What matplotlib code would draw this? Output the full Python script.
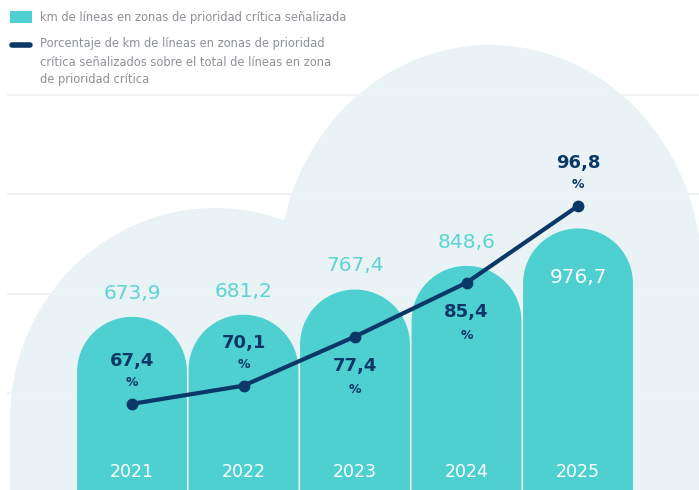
import numpy as np
import matplotlib
matplotlib.use("Agg")
import matplotlib.pyplot as plt
from matplotlib.path import Path
from matplotlib.patches import PathPatch, Ellipse, Rectangle
from matplotlib.lines import Line2D

years = ["2021", "2022", "2023", "2024", "2025"]
km = [673.9, 681.2, 767.4, 848.6, 976.7]
pct = [67.4, 70.1, 77.4, 85.4, 96.8]
km_labels = ["673,9", "681,2", "767,4", "848,6", "976,7"]
pct_labels = ["67,4", "70,1", "77,4", "85,4", "96,8"]
# where the percent label goes: above (1) or below (-1) the point
pct_side = [1, 1, -1, -1, 1]
legend_km = "km de líneas en zonas de prioridad crítica señalizada"
legend_pct = ("Porcentaje de km de líneas en zonas de prioridad\n"
              "crítica señalizados sobre el total de líneas en zona\n"
              "de prioridad crítica")

teal = "#4ecfd0"
teal_txt = "#5ed3d3"
navy = "#0c3868"
cloud = "#e9f3f5"
grid = "#eef2f4"
grey = "#8d9196"

W, H = 699, 490
fig = plt.figure(figsize=(W / 100, H / 100), dpi=100)

# background decoration in pixel coordinates
bg = fig.add_axes([0, 0, 1, 1], zorder=0)
bg.set_xlim(0, W)
bg.set_ylim(H, 0)
bg.axis("off")
# big cloud
bg.add_patch(Ellipse((490, 275), 424, 460, color=cloud, lw=0))
bg.add_patch(Rectangle((278, 275), 430, 220, color=cloud, lw=0))
# small cloud
bg.add_patch(Ellipse((215, 420), 410, 424, color=cloud, lw=0))
bg.add_patch(Rectangle((10, 420), 410, 80, color=cloud, lw=0))
for gy in [95, 194, 294, 393]:
    bg.plot([8, W], [gy, gy], color=grid, lw=1.3, zorder=2)

# legend
bg.add_patch(Rectangle((10, 11), 22, 12, color=teal, lw=0))
bg.add_line(Line2D([12, 30], [45, 45], color=navy, lw=4, solid_capstyle="round"))
bg.text(40, 17, legend_km, color=grey, fontsize=8.3, va="center")
bg.text(40, 37.5, legend_pct, color=grey, fontsize=8.3, va="top", linespacing=1.5)

# bars
ax = fig.add_axes([0, 0, 1, 1], zorder=1)
ax.patch.set_visible(False)
x = np.arange(len(years))
ax.set_xlim(-1.184, 5.085)
ax.set_ylim(81, 1759)
ax.axis("off")

w = 0.985
sx = W / (ax.get_xlim()[1] - ax.get_xlim()[0])
sy = H / (ax.get_ylim()[1] - ax.get_ylim()[0])
rx = w / 2
ry = rx * sx / sy
t = np.linspace(np.pi, 0, 60)
for xi, v in zip(x, km):
    pts = [(xi - rx, 0), (xi - rx, v - ry)]
    pts += list(zip(xi + rx * np.cos(t), v - ry + ry * np.sin(t)))
    pts += [(xi + rx, v - ry), (xi + rx, 0), (xi - rx, 0)]
    ax.add_patch(PathPatch(Path(pts), facecolor=teal, edgecolor="none"))

for i, (xi, v, lab) in enumerate(zip(x, km, km_labels)):
    if i == len(km) - 1:
        ax.annotate(lab, (xi, v), xytext=(0, -35), textcoords="offset points",
                    ha="center", va="center", color="white", fontsize=14.5)
    else:
        ax.annotate(lab, (xi, v), xytext=(0, 17), textcoords="offset points",
                    ha="center", va="center", color=teal_txt, fontsize=14.5)

for xi, yr in zip(x, years):
    ax.text(xi, 1 - 472 / H, yr, transform=ax.get_xaxis_transform(),
            ha="center", va="center", color="white", fontsize=12.5)

# line on its own scale
ax2 = ax.twinx()
ax2.set_position([0, 0, 1, 1])
ax2.set_zorder(2)
ax2.set_ylim(54.6, 127.4)
ax2.axis("off")
ax2.plot(x, pct, color=navy, lw=3, marker="o", markersize=7.5, zorder=3)
for xi, v, lab, s in zip(x, pct, pct_labels, pct_side):
    if s > 0:
        off_num, off_pc = 31, 15.5
    else:
        off_num, off_pc = -21, -38
    ax2.annotate(lab, (xi, v), xytext=(0, off_num), textcoords="offset points",
                 ha="center", va="center", color=navy, fontsize=13, fontweight="bold")
    ax2.annotate("%", (xi, v), xytext=(0, off_pc), textcoords="offset points",
                 ha="center", va="center", color=navy, fontsize=9, fontweight="bold")

fig.savefig("out.png", dpi=100)
